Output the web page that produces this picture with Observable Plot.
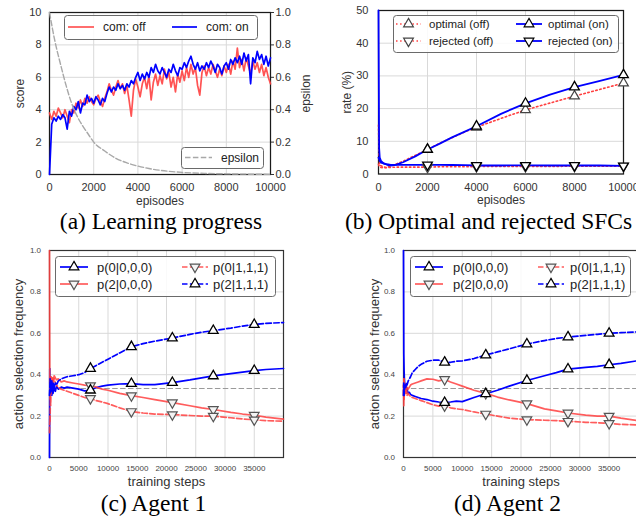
<!DOCTYPE html>
<html><head><meta charset="utf-8">
<script src="https://cdn.jsdelivr.net/npm/d3@7"></script>
<script src="https://cdn.jsdelivr.net/npm/@observablehq/plot@0.6"></script>
<style>
html,body{margin:0;padding:0;background:#fff;}
body{width:636px;height:517px;overflow:hidden;position:relative;}
</style></head><body>
<script>
// ---------- Panel (a): learning progress ----------
const episodesA = Array.from({length: 101}, (_, i) => i * 100);
const scoreOff = [3.8,3.4,3.9,3.6,4.1,3.8,3.5,4.0,3.6,3.2,
4.0,3.8,4.4,4.1,4.6,4.2,4.7,4.4,4.8,4.5,
4.3,4.7,4.9,4.5,4.2,4.7,5.1,5.6,5.2,4.9,
5.4,5.8,5.3,5.6,5.0,5.5,4.6,3.6,5.2,5.9,
5.4,4.8,5.6,6.0,5.3,6.1,4.6,5.7,6.2,5.5,
6.1,5.6,6.5,5.9,6.3,5.4,6.0,5.1,6.2,5.7,
6.4,5.8,6.6,6.0,6.8,6.2,6.6,5.5,4.9,6.3,
6.7,6.1,6.6,6.2,6.8,6.4,6.0,6.5,6.1,6.7,
6.3,6.8,6.2,7.0,6.5,7.8,6.6,7.1,6.4,7.2,
6.7,6.2,7.0,6.5,6.9,6.3,6.8,6.1,6.6,6.0,
5.6];
const scoreOn = [0,3.1,3.5,3.3,3.6,3.4,3.7,3.5,2.8,3.9,
3.6,4.2,4.0,4.5,3.8,4.4,4.3,4.9,4.5,4.7,
4.4,4.8,4.6,4.3,4.7,4.5,5.0,5.4,5.1,5.4,
5.2,5.6,5.3,5.5,5.2,5.6,5.4,5.8,5.6,6.0,
6.3,5.8,6.2,5.9,6.3,6.0,6.6,6.3,6.8,6.4,
6.2,6.6,6.3,6.0,6.5,6.3,6.8,6.4,6.1,6.6,
6.5,6.9,6.6,7.0,7.3,6.8,6.5,6.9,6.4,6.7,
6.5,6.9,6.6,7.0,6.7,6.3,6.8,6.6,6.2,6.7,
6.9,6.5,7.1,6.8,7.2,6.9,7.3,6.8,7.5,7.0,
7.4,5.6,7.2,6.9,7.6,7.1,7.4,6.8,7.3,6.7,
7.2];
const epsEpisodes = [0,250,500,750,1000,1250,1500,1750,2000,2500,3000,3500,4000,4500,5000,6000,7000,8000,9000,10000];
const epsilon = [1.0,0.82,0.68,0.55,0.44,0.36,0.30,0.25,0.20,0.145,0.10,0.072,0.052,0.037,0.026,0.013,0.007,0.004,0.002,0.001];
const xTicksA = [0,2000,4000,6000,8000,10000];
const yTicksA = [0,2,4,6,8,10];
const epsTicks = [0,0.2,0.4,0.6,0.8,1.0];
const legendA = ["com: off", "com: on"];

// ---------- Panel (b): optimal and rejected SFCs ----------
const episodesB = [0,25,50,100,200,300,400,500,700,1000,1500,2000,2500,3000,3500,4000,5000,6000,7000,8000,9000,10000];
const optimalOn  = [50,8,5,4,3.3,3.0,2.7,2.6,2.8,3.6,5.4,7.5,9.3,11.2,12.9,14.6,18.4,21.6,24.3,26.6,28.4,30.3];
const optimalOff = [15,5,3,2.5,2.2,2.0,2.2,2.5,3.0,3.9,5.7,7.5,9.4,11.1,12.8,14.3,17.0,19.6,21.7,23.8,25.8,27.8];
const rejectedOn = [5,4.5,4,3.5,3.2,3.0,2.9,2.8,2.8,2.8,2.8,2.8,2.8,2.75,2.7,2.6,2.6,2.65,2.6,2.6,2.6,2.5];
const rejectedOff= [3,2.5,2.2,2.0,1.9,1.9,2.0,2.0,2.1,2.1,2.1,2.1,2.2,2.2,2.2,2.3,2.3,2.3,2.3,2.4,2.4,2.4];
const markerEpisodesB = [2000,4000,6000,8000,10000];
const xTicksB = [0,2000,4000,6000,8000,10000];
const yTicksB = [0,10,20,30,40,50];
const legendB = ["optimal (off)", "rejected (off)", "optimal (on)", "rejected (on)"];

// ---------- Panels (c), (d): action selection frequency ----------
const stepsCD = [0,50,100,150,200,300,400,500,600,800,1000,1200,1500,2000,2500,3000,4000,5000,6000,7000,8000,9000,10000,12000,14000,16000,18000,21000,24000,26000,28000,31000,33000,35000,37000,40000];
const c_p000  = [0.0,0.43,0.30,0.39,0.32,0.37,0.30,0.35,0.31,0.34,0.32,0.345,0.33,0.34,0.335,0.34,0.335,0.33,0.322,0.325,0.338,0.345,0.35,0.355,0.357,0.352,0.352,0.362,0.375,0.385,0.394,0.405,0.412,0.42,0.425,0.43];
const c_p200  = [1.0,0.36,0.28,0.38,0.33,0.39,0.35,0.38,0.36,0.395,0.385,0.375,0.38,0.365,0.37,0.365,0.36,0.355,0.35,0.347,0.34,0.33,0.325,0.31,0.299,0.29,0.28,0.265,0.25,0.24,0.232,0.218,0.21,0.204,0.195,0.185];
const c_p0111 = [0.12,0.20,0.17,0.30,0.25,0.36,0.33,0.39,0.37,0.38,0.36,0.35,0.34,0.33,0.325,0.32,0.31,0.30,0.29,0.285,0.275,0.268,0.26,0.24,0.222,0.215,0.21,0.207,0.203,0.2,0.2,0.192,0.186,0.182,0.178,0.175];
const c_p2111 = [0.30,0.33,0.38,0.31,0.36,0.32,0.37,0.33,0.36,0.34,0.36,0.35,0.37,0.38,0.385,0.39,0.395,0.40,0.41,0.43,0.445,0.46,0.475,0.505,0.535,0.55,0.562,0.577,0.595,0.605,0.613,0.625,0.635,0.642,0.648,0.652];
const d_p000  = [1.0,0.50,0.42,0.38,0.36,0.33,0.35,0.32,0.33,0.31,0.315,0.305,0.30,0.295,0.29,0.285,0.28,0.272,0.268,0.265,0.268,0.272,0.27,0.29,0.308,0.325,0.345,0.372,0.395,0.41,0.427,0.435,0.44,0.448,0.455,0.468];
const d_p200  = [0.35,0.25,0.38,0.30,0.36,0.32,0.35,0.31,0.34,0.33,0.34,0.35,0.355,0.36,0.365,0.37,0.38,0.378,0.37,0.377,0.365,0.355,0.345,0.325,0.31,0.292,0.278,0.26,0.235,0.225,0.215,0.205,0.2,0.2,0.19,0.178];
const d_p0111 = [0.30,0.38,0.28,0.35,0.31,0.34,0.31,0.32,0.30,0.31,0.30,0.295,0.29,0.285,0.28,0.275,0.265,0.255,0.248,0.25,0.24,0.235,0.232,0.22,0.21,0.2,0.19,0.183,0.18,0.178,0.175,0.17,0.168,0.165,0.16,0.157];
const d_p2111 = [0.30,0.36,0.30,0.34,0.33,0.35,0.34,0.36,0.35,0.37,0.38,0.39,0.41,0.425,0.44,0.45,0.465,0.47,0.47,0.46,0.46,0.465,0.467,0.478,0.495,0.51,0.525,0.548,0.565,0.575,0.582,0.59,0.595,0.6,0.603,0.607];
const markerStepsCD = [7000,14000,21000,28000,35000];
const uniformLevel = [1/3];
const xTicksCD = [0,5000,10000,15000,20000,25000,30000,35000];
const yTicksCD = [0,0.2,0.4,0.6,0.8,1.0];
const legendCD = ["p(0|0,0,0)", "p(2|0,0,0)", "p(0|1,1,1)", "p(2|1,1,1)"];
const captions = ["(a) Learning progress", "(b) Optimal and rejected SFCs", "(c) Agent 1", "(d) Agent 2"];

// ---------- styling ----------
const SANS = "'Liberation Sans', Arial, Helvetica, sans-serif";
const SERIF = "'Liberation Serif', 'Times New Roman', serif";
const RED = "#ff4040", BLUE = "#0000ff", GRID = "#d9d9d9";
const DASH = "5.5,2.4", DOT = "1.5,2.6";
const R = 3.6;
const intFmt = d3.format("d");
const oneDec = d3.format(".1f");

function place(node, left, top) {
  node.style.position = "absolute";
  node.style.left = left + "px";
  node.style.top = top + "px";
  document.body.appendChild(node);
}
const baseStyle = c => ({background: "transparent", fontFamily: SANS, color: c, overflow: "visible"});

// Panel (a)
const rowsA = episodesA.map((e, i) => ({episode: e, off: scoreOff[i], on: scoreOn[i]}));
const rowsEps = epsEpisodes.map((e, i) => ({episode: e, eps: epsilon[i]}));
const dimA = {width: 318, height: 210, marginLeft: 49, marginRight: 48, marginTop: 12, marginBottom: 36};
const plotA = Plot.plot({
  ...dimA, style: baseStyle("#333"),
  x: {domain: [0, 10000]}, y: {domain: [0, 10]},
  marks: [
    Plot.gridX(xTicksA, {stroke: GRID, strokeOpacity: 1}),
    Plot.gridY(yTicksA, {stroke: GRID, strokeOpacity: 1}),
    Plot.frame({stroke: "#1a1a1a", strokeWidth: 1.25}),
    Plot.line(rowsA, {x: "episode", y: "off", stroke: RED, strokeOpacity: 0.9, strokeWidth: 1.7}),
    Plot.line(rowsA, {x: "episode", y: "on", stroke: BLUE, strokeWidth: 1.7}),
    Plot.axisX(xTicksA, {tickSize: 0, tickPadding: 9, tickFormat: intFmt, label: null, fontSize: 11}),
    Plot.axisX([], {tickSize: 0, label: "episodes", labelAnchor: "center", labelOffset: 30, labelArrow: "none", fontSize: 12}),
    Plot.axisY(yTicksA, {tickSize: 0, tickPadding: 8, tickFormat: intFmt, label: null, fontSize: 11}),
    Plot.axisY([], {tickSize: 0, label: "score", labelAnchor: "center", labelOffset: 34.5, labelArrow: "none", fontSize: 12})
  ]
});
place(plotA, 0, 0);
const plotEps = Plot.plot({
  ...dimA, style: baseStyle("#333"),
  x: {domain: [0, 10000], axis: null}, y: {domain: [0, 1]},
  marks: [
    Plot.line(rowsEps, {x: "episode", y: "eps", stroke: "#a8a8a8", strokeWidth: 1.4, strokeDasharray: DASH, curve: "monotone-x"}),
    Plot.axisY(epsTicks, {anchor: "right", tickSize: 3, tickPadding: 2, tickFormat: oneDec, label: null, fontSize: 11}),
    Plot.axisY([], {anchor: "right", tickSize: 0, label: "epsilon", labelAnchor: "center", labelOffset: 39, labelArrow: "none", fontSize: 12})
  ]
});
place(plotEps, 0, 0);

// Panel (b)
const rowsB = episodesB.map((e, i) => ({episode: e, optOn: optimalOn[i], optOff: optimalOff[i], rejOn: rejectedOn[i], rejOff: rejectedOff[i]}));
const mB = rowsB.filter(d => markerEpisodesB.includes(d.episode));
const plotB = Plot.plot({
  width: 318, height: 210, marginLeft: 60, marginRight: 13, marginTop: 10, marginBottom: 36.5,
  style: baseStyle("#333"),
  x: {domain: [0, 10000]}, y: {domain: [0, 50]},
  marks: [
    Plot.gridX(xTicksB, {stroke: GRID, strokeOpacity: 1}),
    Plot.gridY(yTicksB, {stroke: GRID, strokeOpacity: 1}),
    Plot.frame({stroke: "#1a1a1a", strokeWidth: 1.25}),
    Plot.line(rowsB, {x: "episode", y: "optOff", stroke: RED, strokeWidth: 1.6, strokeDasharray: DOT}),
    Plot.line(rowsB, {x: "episode", y: "rejOff", stroke: RED, strokeWidth: 1.6, strokeDasharray: DOT}),
    Plot.line(rowsB, {x: "episode", y: "optOn", stroke: BLUE, strokeWidth: 1.8}),
    Plot.line(rowsB, {x: "episode", y: "rejOn", stroke: BLUE, strokeWidth: 1.8}),
    Plot.dot(mB, {x: "episode", y: "optOff", symbol: "triangle", r: R, fill: "white", stroke: "#444", strokeWidth: 1.2}),
    Plot.dot(mB, {x: "episode", y: "rejOff", symbol: "triangle", rotate: 180, r: R, fill: "white", stroke: "#444", strokeWidth: 1.2}),
    Plot.dot(mB, {x: "episode", y: "optOn", symbol: "triangle", r: R, fill: "white", stroke: "#000", strokeWidth: 1.3}),
    Plot.dot(mB, {x: "episode", y: "rejOn", symbol: "triangle", rotate: 180, r: R, fill: "white", stroke: "#000", strokeWidth: 1.3}),
    Plot.axisX(xTicksB, {tickSize: 0, tickPadding: 9.5, tickFormat: intFmt, label: null, fontSize: 11}),
    Plot.axisX([], {tickSize: 0, label: "episodes", labelAnchor: "center", labelOffset: 30, labelArrow: "none", fontSize: 12}),
    Plot.axisY(yTicksB, {tickSize: 0, tickPadding: 10, tickFormat: intFmt, label: null, fontSize: 11}),
    Plot.axisY([], {tickSize: 0, label: "rate (%)", labelAnchor: "center", labelOffset: 36.5, labelArrow: "none", fontSize: 12})
  ]
});
place(plotB, 318, 0);

// Panels (c), (d)
function agentPlot(series, dims, yLabelOffset) {
  const rows = stepsCD.map((s, i) => ({step: s, p000: series[0][i], p200: series[1][i], p0111: series[2][i], p2111: series[3][i]}));
  const m = rows.filter(d => markerStepsCD.includes(d.step));
  return Plot.plot({
    ...dims, style: baseStyle("#444"),
    x: {domain: [0, 40000]}, y: {domain: [0, 1]},
    marks: [
      Plot.gridX(xTicksCD, {stroke: GRID, strokeOpacity: 1}),
      Plot.gridY(yTicksCD, {stroke: GRID, strokeOpacity: 1}),
      Plot.frame({stroke: "#333", strokeWidth: 1.2}),
      Plot.ruleY(uniformLevel, {stroke: "#9a9a9a", strokeWidth: 1.2, strokeDasharray: DASH}),
      Plot.line(rows, {x: "step", y: "p000", stroke: BLUE, strokeWidth: 1.7}),
      Plot.line(rows, {x: "step", y: "p200", stroke: RED, strokeOpacity: 0.85, strokeWidth: 1.7}),
      Plot.line(rows, {x: "step", y: "p0111", stroke: RED, strokeOpacity: 0.85, strokeWidth: 1.7, strokeDasharray: DASH}),
      Plot.line(rows, {x: "step", y: "p2111", stroke: BLUE, strokeWidth: 1.7, strokeDasharray: DASH}),
      Plot.dot(m, {x: "step", y: "p200", symbol: "triangle", rotate: 180, r: R, fill: "#f4f4f4", stroke: "#555", strokeWidth: 1.2}),
      Plot.dot(m, {x: "step", y: "p0111", symbol: "triangle", rotate: 180, r: R, fill: "#f4f4f4", stroke: "#555", strokeWidth: 1.2}),
      Plot.dot(m, {x: "step", y: "p000", symbol: "triangle", r: R, fill: "white", stroke: "#000", strokeWidth: 1.3}),
      Plot.dot(m, {x: "step", y: "p2111", symbol: "triangle", r: R, fill: "white", stroke: "#000", strokeWidth: 1.3}),
      Plot.axisX(xTicksCD, {tickSize: 0, tickPadding: 8, tickFormat: intFmt, label: null, fontSize: 8}),
      Plot.axisX([], {tickSize: 0, label: "training steps", labelAnchor: "center", labelOffset: 28, labelArrow: "none", fontSize: 13, fill: "#333"}),
      Plot.axisY(yTicksCD, {tickSize: 0, tickPadding: 8.5, tickFormat: oneDec, label: null, fontSize: 8}),
      Plot.axisY([], {tickSize: 0, label: "action selection frequency", labelAnchor: "center", labelOffset: yLabelOffset, labelArrow: "none", fontSize: 13, fill: "#333"})
    ]
  });
}
place(agentPlot([c_p000, c_p200, c_p0111, c_p2111], {width: 318, height: 277, marginLeft: 49, marginRight: 35, marginTop: 10, marginBottom: 60}, 35.5), 0, 240);
place(agentPlot([d_p000, d_p200, d_p0111, d_p2111], {width: 330, height: 277, marginLeft: 85, marginRight: 10, marginTop: 10, marginBottom: 60}, 34), 318, 240);

// ---------- overlay: legends and captions ----------
const ov = d3.create("svg").attr("width", 636).attr("height", 517)
  .style("position", "absolute").style("left", "0px").style("top", "0px").style("pointer-events", "none");
const tri = d3.symbol(d3.symbolTriangle, Math.PI * R * R)();
function legendBox(x0, y0, x1, y1) {
  ov.append("rect").attr("x", x0 + 0.5).attr("y", y0 + 0.5).attr("width", x1 - x0).attr("height", y1 - y0)
    .attr("rx", 3).attr("fill", "white").attr("fill-opacity", 0.85).attr("stroke", "#6a6a6a").attr("stroke-width", 1);
}
function item(o) {
  ov.append("line").attr("x1", o.x0).attr("x2", o.x1).attr("y1", o.y).attr("y2", o.y)
    .attr("stroke", o.color).attr("stroke-width", o.w || 1.7).attr("stroke-opacity", o.op || 1)
    .attr("stroke-dasharray", o.dash || null);
  if (o.marker) {
    ov.append("path").attr("d", tri)
      .attr("transform", `translate(${(o.x0 + o.x1) / 2},${o.y}) rotate(${o.marker === "down" ? 180 : 0})`)
      .attr("fill", o.mfill).attr("stroke", o.mstroke).attr("stroke-width", 1.2);
  }
  ov.append("text").attr("x", o.tx).attr("y", o.y).attr("dy", "0.35em").text(o.label)
    .attr("font-family", SANS).attr("font-size", o.fs).attr("fill", "#222");
}
// (a)
legendBox(64, 15, 257, 39);
item({x0: 68, x1: 94, y: 27, color: RED, op: 0.9, tx: 103, label: legendA[0], fs: 12});
item({x0: 172, x1: 197, y: 27, color: BLUE, tx: 206, label: legendA[1], fs: 12});
legendBox(181, 147, 263, 168);
item({x0: 185, x1: 212, y: 157.5, color: "#a8a8a8", w: 1.4, dash: DASH, tx: 221, label: "epsilon", fs: 12});
// (b)
legendBox(393, 15, 618, 52);
item({x0: 396, x1: 421, y: 24, color: RED, w: 1.6, dash: DOT, marker: "up", mfill: "white", mstroke: "#444", tx: 429, label: legendB[0], fs: 11.5});
item({x0: 396, x1: 421, y: 41, color: RED, w: 1.6, dash: DOT, marker: "down", mfill: "white", mstroke: "#444", tx: 429, label: legendB[1], fs: 11.5});
item({x0: 516, x1: 542, y: 24, color: BLUE, w: 1.8, marker: "up", mfill: "white", mstroke: "#000", tx: 548, label: legendB[2], fs: 11.5});
item({x0: 516, x1: 542, y: 41, color: BLUE, w: 1.8, marker: "down", mfill: "white", mstroke: "#000", tx: 548, label: legendB[3], fs: 11.5});
// (c), (d)
[[55, 60, 88, 97, 182, 208, 213], [410, 415, 443, 453, 538, 564, 570]].forEach(([bx, a0, a1, at, b0, b1, bt]) => {
  legendBox(bx, 256, bx + 220, 296);
  item({x0: a0, x1: a1, y: 267, color: BLUE, marker: "up", mfill: "white", mstroke: "#000", tx: at, label: legendCD[0], fs: 13});
  item({x0: a0, x1: a1, y: 284, color: RED, op: 0.85, marker: "down", mfill: "#f4f4f4", mstroke: "#555", tx: at, label: legendCD[1], fs: 13});
  item({x0: b0, x1: b1, y: 267, color: RED, op: 0.85, dash: DASH, marker: "down", mfill: "#f4f4f4", mstroke: "#555", tx: bt, label: legendCD[2], fs: 13});
  item({x0: b0, x1: b1, y: 284, color: BLUE, dash: DASH, marker: "up", mfill: "white", mstroke: "#000", tx: bt, label: legendCD[3], fs: 13});
});
// captions
[[161, 229, "middle"], [345, 229, "start"], [153.5, 511, "middle"], [507.5, 511, "middle"]].forEach(([x, y, a], i) => {
  ov.append("text").attr("x", x).attr("y", y).attr("text-anchor", a).text(captions[i])
    .attr("font-family", SERIF).attr("font-size", 23.5).attr("fill", "#000");
});
document.body.appendChild(ov.node());
</script>
</body></html>
